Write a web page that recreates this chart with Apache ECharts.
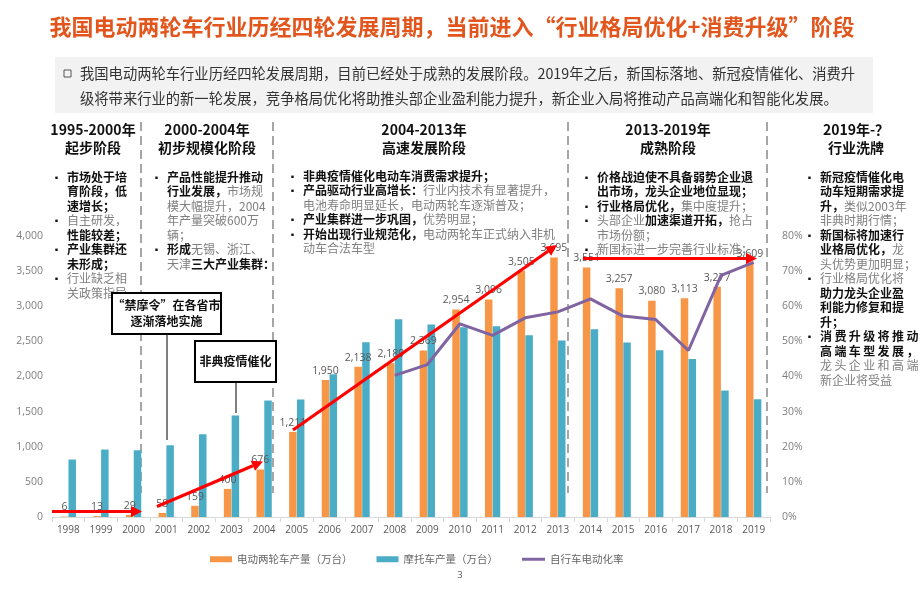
<!DOCTYPE html>
<html><head><meta charset="utf-8">
<script src="https://cdn.jsdelivr.net/npm/echarts@6/dist/echarts.min.js"></script>
<style>html,body{margin:0;padding:0;background:#fff}#c{width:920px;height:614px}</style>
</head><body><div id="c"></div>
<script>
const years = ['1998','1999','2000','2001','2002','2003','2004','2005','2006','2007','2008','2009','2010','2011','2012','2013','2014','2015','2016','2017','2018','2019'];
const evOutput = [6,13,29,58,159,400,676,1211,1950,2138,2189,2369,2954,3096,3505,3695,3551,3257,3080,3113,3277,3609];
const motoOutput = [818,960,950,1021,1178,1444,1658,1672,2033,2489,2816,2740,2700,2716,2588,2512,2673,2484,2374,2250,1800,1676];
const bikeElecRate = [null,null,null,null,null,null,null,null,null,null,40.3,43.4,55.0,51.7,56.7,58.4,62.1,57.2,56.2,47.4,68.8,72.5];
const leftTicks = [0,4000,500];
const rightTicks = [0,80,10];
const seriesNames = ['电动两轮车产量（万台）','摩托车产量（万台）','自行车电动化率'];

const CJK = '"Noto Sans CJK SC","Noto Sans",sans-serif';
const NUM = '"Open Sans","Noto Sans CJK SC",sans-serif';
const chart = echarts.init(document.getElementById('c'), null, {renderer:'canvas'});

function fmt(n){return n.toLocaleString('en-US');}

const rich = {
  b:{fontFamily:CJK,fontWeight:'bold',fontSize:12,lineHeight:14.5,fill:'#111'},
  g:{fontFamily:CJK,fontSize:12,lineHeight:14.5,fill:'#7f7f7f'}
};
function col(x, bx, y, lines, bullets){
  const els=[];
  els.push({type:'text',x:x,y:y,style:{text:lines.join('\n'),rich:rich,verticalAlign:'top',align:'left'}});
  const b = lines.map((_,i)=>bullets.includes(i)?'{b|▪}':'{b| }');
  els.push({type:'text',x:bx,y:y,style:{text:b.join('\n'),rich:{b:{fontFamily:CJK,fontSize:9,lineHeight:14.5,fill:'#111'}},verticalAlign:'top'}});
  return els;
}
function header(cx, t1, t2){
  return [{type:'text',x:cx,y:121,style:{text:t1+'\n'+t2,fontFamily:CJK,fontWeight:'bold',fontSize:14,lineHeight:17.5,fill:'#111',align:'center',verticalAlign:'top'}}];
}
function dashed(x){
  return {type:'line',shape:{x1:x,y1:122,x2:x,y2:493},style:{stroke:'#a6a6a6',lineWidth:2,lineDash:[9,5]}};
}
function arrow(x1,y1,x2,y2){
  const a=Math.atan2(y2-y1,x2-x1), L=11, W=5.5;
  const bx=x2-L*Math.cos(a), by=y2-L*Math.sin(a);
  const px=-Math.sin(a), py=Math.cos(a);
  return [
    {type:'line',z:100,shape:{x1:x1,y1:y1,x2:bx,y2:by},style:{stroke:'#ff0000',lineWidth:3.2}},
    {type:'polygon',z:100,shape:{points:[[x2,y2],[bx+px*W,by+py*W],[bx-px*W,by-py*W]]},style:{fill:'#ff0000'}}
  ];
}
const S='\u2009';
const graphics = [
  {type:'text',x:452,y:27,style:{text:'我国电动两轮车行业历经四轮发展周期，当前进入“行业格局优化+消费升级”阶段',fontFamily:CJK,fontWeight:'bold',fontSize:22,fill:'#E2561E',align:'center',verticalAlign:'middle'}},
  {type:'rect',shape:{x:55,y:57,width:818,height:56},style:{fill:'#f2f2f2'}},
  {type:'rect',shape:{x:64,y:70,width:7,height:7},style:{fill:'none',stroke:'#555',lineWidth:1}},
  {type:'text',x:80,y:74,style:{text:'我国电动两轮车行业历经四轮发展周期，目前已经处于成熟的发展阶段。2019年之后，新国标落地、新冠疫情催化、消费升',fontFamily:CJK,fontSize:14.3,fill:'#333',verticalAlign:'middle'}},
  {type:'text',x:80,y:99,style:{text:'级将带来行业的新一轮发展，竞争格局优化将助推头部企业盈利能力提升，新企业入局将推动产品高端化和智能化发展。',fontFamily:CJK,fontSize:14.3,fill:'#333',verticalAlign:'middle'}},
  dashed(141), dashed(273), dashed(568), dashed(767),
  ...header(93,'1995-2000年','起步阶段'),
  ...header(207,'2000-2004年','初步规模化阶段'),
  ...header(424,'2004-2013年','高速发展阶段'),
  ...header(668,'2013-2019年','成熟阶段'),
  ...header(856,'2019年-？','行业洗牌'),
  ...col(67,52,170,['{b|市场处于培}','{b|育阶段，低}','{b|速增长；}','{g|自主研发，}','{b|性能较差；}','{b|产业集群还}','{b|未形成；}','{g|行业缺乏相}','{g|关政策指导}'],[0,3,5,7]),
  ...col(167,152,170,['{b|产品性能提升推动}','{b|行业发展，}{g|市场规}','{g|模大幅提升，2004}','{g|年产量突破600万}','{g|辆；}','{b|形成}{g|无锡、浙江、}','{g|天津}{b|三大产业集群：}'],[0,5]),
  ...col(303,288,169,['{b|非典疫情催化电动车消费需求提升；}','{b|产品驱动行业高增长：}{g|行业内技术有显著提升，}','{g|电池寿命明显延长，电动两轮车逐渐普及；}','{b|产业集群进一步巩固，}{g|优势明显；}','{b|开始出现行业规范化，}{g|电动两轮车正式纳入非机}','{g|动车合法车型}'],[0,1,3,4]),
  ...col(597,582,170,['{b|价格战迫使不具备弱势企业退}','{b|出市场，龙头企业地位显现；}','{b|行业格局优化，}{g|集中度提升；}','{g|头部企业}{b|加速渠道开拓，}{g|抢占}','{g|市场份额；}','{g|新国标进一步完善行业标准；}'],[0,2,3,5]),
  ...col(820,805,170,['{b|新冠疫情催化电}','{b|动车短期需求提}','{b|升，}{g|类似2003年}','{g|非典时期行情；}','{b|新国标将加速行}','{b|业格局优化，}{g|龙}','{g|头优势更加明显；}','{g|行业格局优化将}','{b|助力龙头企业盈}','{b|利能力修复和提}','{b|升；}',
    '{b|'+'消费升级将推动'.split('').join(S)+'}','{b|'+'高端车型发展，'.split('').join(S)+'}','{g|'+'龙头企业和高端'.split('').join(S)+'}','{g|新企业将受益}'],[0,4,7,11]),
  {type:'line',shape:{x1:167,y1:334,x2:167,y2:440},style:{stroke:'#000',lineWidth:1}},
  {type:'rect',z:50,shape:{x:112,y:293,width:109,height:41},style:{fill:'#fff',stroke:'#000',lineWidth:2}},
  {type:'text',z:51,x:166.5,y:313.5,style:{text:'“禁摩令”在各省市\n逐渐落地实施',fontFamily:CJK,fontWeight:'bold',fontSize:12,lineHeight:16,fill:'#111',align:'center',verticalAlign:'middle'}},
  {type:'line',shape:{x1:236,y1:382,x2:236,y2:413},style:{stroke:'#000',lineWidth:1}},
  {type:'rect',z:50,shape:{x:195,y:341,width:81,height:41},style:{fill:'#fff',stroke:'#000',lineWidth:2}},
  {type:'text',z:51,x:235.5,y:361.5,style:{text:'非典疫情催化',fontFamily:CJK,fontWeight:'bold',fontSize:12,fill:'#111',align:'center',verticalAlign:'middle'}},
  ...arrow(52,511.5,142,511.5),
  ...arrow(157,506.5,263,461.5),
  ...arrow(293,430,557,245),
  ...arrow(583,258.5,757,258.5),
  {type:'text',x:460,y:575,style:{text:'3',fontFamily:NUM,fontSize:9,fill:'#555',align:'center',verticalAlign:'middle'}}
];

chart.setOption({
  animation:false,
  textStyle:{fontFamily:NUM},
  grid:{left:52,right:150,top:236,bottom:97},
  legend:[
    {left:205,top:549,itemWidth:22,itemHeight:6,itemGap:24,textStyle:{color:'#666',fontSize:10.5,fontFamily:CJK},
      data:[{name:seriesNames[0],icon:'rect'},{name:seriesNames[1],icon:'rect'}]},
    {left:517,top:549,itemWidth:23,itemHeight:3,textStyle:{color:'#666',fontSize:10.5,fontFamily:CJK},
      data:[{name:seriesNames[2],icon:'rect'}]}
  ],
  xAxis:{type:'category',data:years,axisLine:{lineStyle:{color:'#d9d9d9'}},axisTick:{show:true,lineStyle:{color:'#d9d9d9'}},
    axisLabel:{color:'#595959',fontSize:10,margin:8}},
  yAxis:[
    {type:'value',min:leftTicks[0],max:leftTicks[1],interval:leftTicks[2],splitLine:{show:false},axisLine:{show:false},axisTick:{show:false},
      axisLabel:{color:'#7f7f7f',fontSize:10.5,margin:9,formatter:v=>fmt(v)}},
    {type:'value',min:rightTicks[0],max:rightTicks[1],interval:rightTicks[2],splitLine:{show:false},axisLine:{show:false},axisTick:{show:false},
      axisLabel:{color:'#7f7f7f',fontSize:10.5,margin:12,formatter:'{value}%'}}
  ],
  series:[
    {name:seriesNames[0],type:'bar',data:evOutput,barWidth:7.5,barGap:'4%',itemStyle:{color:'#F79646'},
      label:{show:true,position:'top',distance:4,color:'#595959',fontSize:10.5,formatter:p=>fmt(p.value)}},
    {name:seriesNames[1],type:'bar',data:motoOutput,barWidth:7.5,barGap:'4%',itemStyle:{color:'#4BACC6'}},
    {name:seriesNames[2],type:'line',yAxisIndex:1,data:bikeElecRate,symbol:'none',lineStyle:{color:'#8064A2',width:3},itemStyle:{color:'#8064A2'},z:5}
  ],
  graphic:graphics
});
</script></body></html>
